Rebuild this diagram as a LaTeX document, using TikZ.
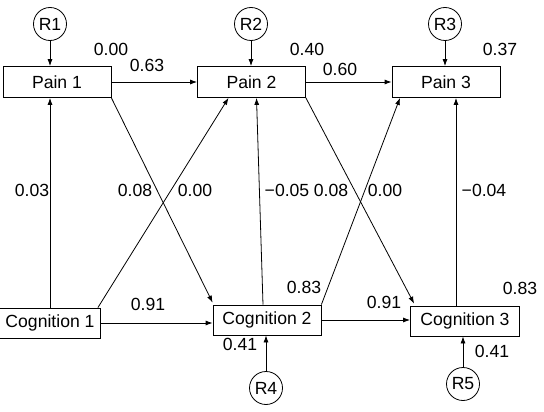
\documentclass[tikz,border=0pt]{standalone}
\usepackage{fontspec}
\setmainfont{Liberation Sans}
\usetikzlibrary{arrows.meta}
\begin{document}
\begin{tikzpicture}
[x=1pt, y=-1pt, line width=.8pt, >={Latex[length=7pt,width=5pt]},
 font=\fontsize{17.6}{20}\selectfont,
 box/.style={draw, minimum width=108pt, minimum height=31pt, inner sep=2pt},
 res/.style={draw, circle, minimum size=33pt, inner sep=0pt},
 coef/.style={inner sep=0pt}]
\useasboundingbox (0,0) rectangle (544,412);
% variables
\node[box] (Pain1) at (57,82) {Pain 1};
\node[box] (Pain2) at (251.5,82) {Pain 2};
\node[box] (Pain3) at (446,82) {Pain 3};
\node[box, minimum width=101pt, minimum height=30pt] (Cog1) at (50,323) {Cognition 1};
\node[box, minimum height=30pt] (Cog2) at (267,320) {Cognition 2};
\node[box, minimum width=109pt, minimum height=30pt] (Cog3) at (465,321) {Cognition 3};
% residuals
\node[res] (R1) at (50,24) {R1};
\node[res] (R2) at (251,24) {R2};
\node[res] (R3) at (445,24) {R3};
\node[res] (R4) at (266,388) {R4};
\node[res] (R5) at (463,384) {R5};
% paths
\draw[->] (R1) -- (R1.south |- Pain1.north);
\draw[->] (R2) -- (R2.south |- Pain2.north);
\draw[->] (R3) -- (R3.south |- Pain3.north);
\draw[->] (R4) -- (R4.north |- Cog2.south);
\draw[->] (R5) -- (R5.north |- Cog3.south);
\draw[->] (Pain1) -- (Pain2);
\draw[->] (Pain2) -- (Pain3);
\draw[->] (Cog1.east) -- (Cog1.east -| Cog2.west);
\draw[->] (Cog2.east) -- (Cog2.east -| Cog3.west);
\draw[->] (Cog1.north) -- (Cog1.north |- Pain1.south);
\draw[->] ([xshift=-3pt]Cog1.north east) -- ([xshift=-23pt]Pain2.south);
\draw[->] (Pain1.south east) -- ([yshift=2pt]Cog2.north west);
\draw[->] ([xshift=-4pt]Cog2.north) -- ([xshift=5pt]Pain2.south);
\draw[->] (Pain2.south east) -- ([xshift=4pt,yshift=2pt]Cog3.north west);
\draw[->] (Cog2.north east) -- ([xshift=-46pt]Pain3.south);
\draw[->] ([xshift=-9pt]Cog3.north) -- ([xshift=-9pt]Cog3.north |- Pain3.south);
% coefficients
\node[coef] (c1) at (111,49) {0.00};
\node[coef] (c2) at (147,65) {0.63};
\node[coef] (c3) at (307,49) {0.40};
\node[coef] (c4) at (340,69) {0.60};
\node[coef] (c5) at (500,49) {0.37};
\node[coef] (c6) at (32,190) {0.03};
\node[coef] (c7) at (135,190) {0.08};
\node[coef] (c8) at (195,190) {0.00};
\node[coef] (c9) at (287,190) {−0.05};
\node[coef] (c10) at (331,190) {0.08};
\node[coef] (c11) at (385,190) {0.00};
\node[coef] (c12) at (484,190) {−0.04};
\node[coef] (c13) at (148,304) {0.91};
\node[coef] (c14) at (240,344) {0.41};
\node[coef] (c15) at (304,287) {0.83};
\node[coef] (c16) at (384,302) {0.91};
\node[coef] (c17) at (520,288) {0.83};
\node[coef] (c18) at (492,351) {0.41};
\end{tikzpicture}
\end{document}
